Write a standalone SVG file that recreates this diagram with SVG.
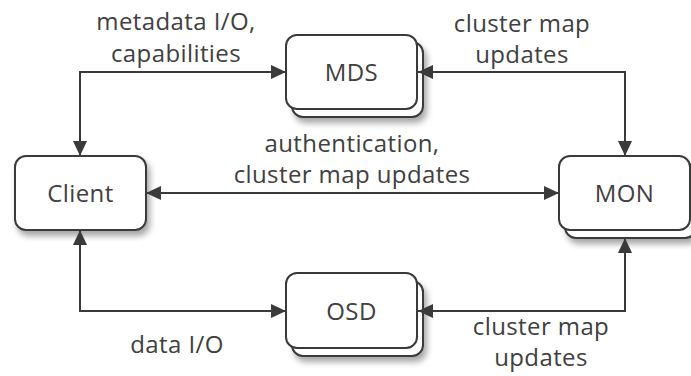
<svg xmlns="http://www.w3.org/2000/svg" width="691" height="376" viewBox="0 0 691 376">
  <style>
    .box { fill: #ffffff; stroke: #3a3a3a; stroke-width: 2; }
    .shadowed { filter: url(#shadow); }
    .label { font-family: "Open Sans", "Liberation Sans", sans-serif; font-size: 24px; letter-spacing: 0.4px; fill: #404040; text-anchor: middle; }
    .edge { fill: none; stroke: #3a3a3a; stroke-width: 2; marker-start: url(#arrow); marker-end: url(#arrow); }
  </style>
  <defs>
    <filter id="shadow" x="-20%" y="-20%" width="150%" height="160%">
      <feDropShadow dx="3" dy="5" stdDeviation="3" flood-color="#000000" flood-opacity="0.35"/>
    </filter>
    <marker id="arrow" viewBox="0 0 15 14" refX="15" refY="7" markerWidth="15" markerHeight="14" markerUnits="userSpaceOnUse" orient="auto-start-reverse">
      <path d="M0,0 L15,7 L0,14 Z" fill="#3a3a3a"/>
    </marker>
  </defs>

  <rect width="691" height="376" fill="#ffffff"/>

  <!-- nodes -->
  <g id="client">
    <rect class="box shadowed" x="15" y="156" width="131" height="74" rx="11"/>
    <text class="label" x="80.5" y="202">Client</text>
  </g>
  <g id="mds">
    <rect class="box shadowed" x="292" y="42" width="131" height="75" rx="11"/>
    <rect class="box" x="286" y="35" width="131" height="74" rx="11"/>
    <text class="label" x="351.5" y="81">MDS</text>
  </g>
  <g id="mon">
    <rect class="box shadowed" x="565" y="163" width="131" height="75" rx="11"/>
    <rect class="box" x="559" y="156" width="131" height="74" rx="11"/>
    <text class="label" x="624.5" y="202">MON</text>
  </g>
  <g id="osd">
    <rect class="box shadowed" x="292" y="281" width="131" height="75" rx="11"/>
    <rect class="box" x="286" y="273" width="131" height="75" rx="11"/>
    <text class="label" x="351.5" y="320">OSD</text>
  </g>

  <!-- connectors -->
  <g id="connectors">
    <path class="edge" d="M80,156 V72 H286"/>
    <path class="edge" d="M418,72 H625 V156"/>
    <path class="edge" d="M146,193 H559"/>
    <path class="edge" d="M80,230 V311 H286"/>
    <path class="edge" d="M418,311 H625 V238"/>
  </g>

  <!-- connector labels -->
  <g id="edge-labels">
    <text class="label" x="176" y="30">metadata I/O,</text>
    <text class="label" x="176" y="62">capabilities</text>
    <text class="label" x="522" y="32">cluster map</text>
    <text class="label" x="522" y="63">updates</text>
    <text class="label" x="352" y="152">authentication,</text>
    <text class="label" x="352" y="183">cluster map updates</text>
    <text class="label" x="177" y="353">data I/O</text>
    <text class="label" x="541" y="335">cluster map</text>
    <text class="label" x="541" y="366">updates</text>
  </g>
</svg>
